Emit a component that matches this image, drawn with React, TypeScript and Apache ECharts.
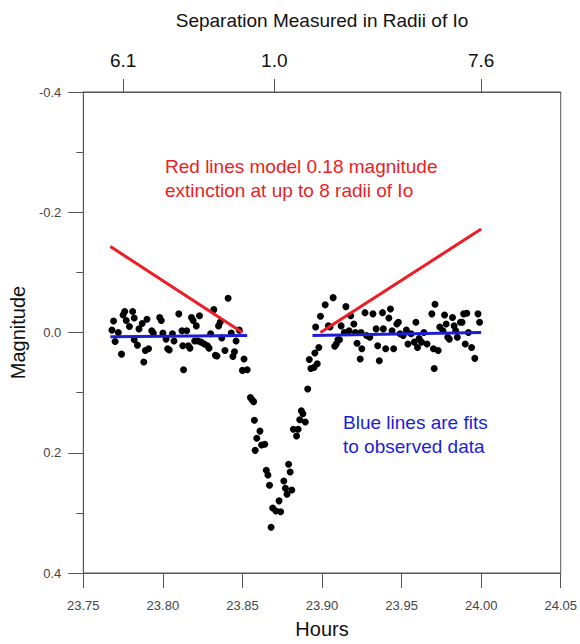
import React, { useEffect, useRef } from "react";
import * as echarts from "echarts";

// Observed data: [hours, magnitude]
const leftObs: number[][] = [
  [23.769, -0.019], [23.768, -0.004], [23.770, 0.015], [23.772, 0.000], [23.774, 0.036],
  [23.775, -0.029], [23.776, -0.035], [23.777, -0.020], [23.779, -0.010], [23.781, -0.035],
  [23.782, -0.024], [23.782, 0.012], [23.784, 0.021], [23.785, -0.006], [23.787, -0.015],
  [23.788, 0.049], [23.789, 0.030], [23.790, -0.022], [23.791, 0.027], [23.793, -0.003],
  [23.794, 0.001], [23.798, -0.025], [23.799, -0.020], [23.800, 0.001], [23.802, 0.011],
  [23.803, 0.027], [23.804, 0.029], [23.806, 0.002], [23.807, 0.014], [23.810, -0.031],
  [23.812, -0.003], [23.8125, 0.022], [23.813, 0.062], [23.815, -0.003], [23.816, 0.022],
  [23.817, 0.026], [23.818, -0.025], [23.819, -0.020], [23.820, 0.014], [23.821, -0.011],
  [23.822, 0.014], [23.823, -0.028], [23.824, 0.016], [23.826, 0.019], [23.828, 0.022],
  [23.829, 0.026], [23.830, 0.002], [23.832, -0.038], [23.833, 0.038], [23.834, 0.039],
  [23.835, -0.011], [23.836, -0.017], [23.837, 0.009], [23.839, 0.030], [23.841, -0.057],
  [23.843, 0.001], [23.844, 0.040], [23.845, 0.032], [23.846, 0.014], [23.848, -0.004],
  [23.851, 0.044], [23.850, 0.063], [23.853, 0.062], [23.855, 0.108],
];

const dipObs: number[][] = [
  [23.856, 0.112], [23.857, 0.115], [23.8575, 0.146], [23.861, 0.164], [23.859, 0.176],
  [23.862, 0.187], [23.864, 0.186], [23.858, 0.196], [23.865, 0.229], [23.866, 0.237],
  [23.867, 0.254], [23.873, 0.280], [23.869, 0.292], [23.871, 0.297], [23.874, 0.298],
  [23.868, 0.324], [23.876, 0.247], [23.877, 0.259], [23.878, 0.269], [23.881, 0.262],
  [23.879, 0.219], [23.880, 0.232], [23.882, 0.161], [23.884, 0.172], [23.885, 0.161],
  [23.886, 0.145], [23.887, 0.130], [23.888, 0.135], [23.8895, 0.149], [23.891, 0.094],
  [23.893, 0.060], [23.895, 0.058], [23.892, 0.045], [23.8955, 0.034], [23.897, 0.052],
  [23.898, 0.025],
];

const rightObs: number[][] = [
  [23.896, -0.009], [23.899, -0.027], [23.902, -0.046], [23.904, -0.011], [23.905, -0.009],
  [23.907, -0.058], [23.908, 0.023], [23.909, 0.019], [23.910, 0.012], [23.911, 0.012],
  [23.912, -0.011], [23.914, 0.000], [23.915, -0.043], [23.917, -0.003], [23.918, -0.028],
  [23.920, -0.014], [23.921, 0.000], [23.922, 0.018], [23.924, 0.044], [23.9245, 0.000],
  [23.925, 0.027], [23.927, -0.033], [23.928, 0.005], [23.930, 0.008], [23.932, -0.031],
  [23.934, -0.006], [23.935, 0.022], [23.936, 0.047], [23.938, -0.033], [23.9385, -0.006],
  [23.940, 0.027], [23.942, -0.024], [23.943, -0.039], [23.944, -0.003], [23.945, 0.027],
  [23.947, -0.014], [23.948, -0.017], [23.949, 0.002], [23.951, 0.005], [23.953, -0.004],
  [23.954, 0.019], [23.956, 0.002], [23.958, 0.016], [23.959, -0.017], [23.960, 0.025],
  [23.961, 0.010], [23.9625, 0.016], [23.964, 0.000], [23.966, 0.019], [23.969, -0.031],
  [23.970, 0.027], [23.9705, 0.060], [23.971, -0.047], [23.973, 0.030], [23.974, -0.009],
  [23.976, -0.003], [23.977, -0.029], [23.978, -0.014], [23.979, 0.008], [23.980, 0.011],
  [23.982, -0.025], [23.983, -0.011], [23.984, -0.003], [23.985, 0.008], [23.987, -0.017],
  [23.988, -0.017], [23.989, -0.031], [23.990, 0.019], [23.991, -0.032], [23.992, 0.000],
  [23.994, 0.025], [23.996, 0.043], [23.998, -0.031], [23.999, -0.017],
];

// Model (red) and fit (blue) lines
const redLeft: number[][] = [[23.767, -0.143], [23.85, 0.0]];
const redRight: number[][] = [[23.899, 0.0], [24.0, -0.172]];
const blueLeft: number[][] = [[23.767, 0.007], [23.853, 0.005]];
const blueRight: number[][] = [[23.894, 0.005], [24.0, 0.0]];

// Top axis: separation in radii of Io
const topTickHours: number[] = [23.775, 23.87, 24.0];
const topTickLabels: string[] = ["6.1", "1.0", "7.6"];

const FONT = "Liberation Sans, Arial, sans-serif";
const AXIS_COLOR = "#555";
const RED = "#ee1c24";
const BLUE = "#1d1dd6";

export default function App() {
  const ref = useRef<HTMLDivElement>(null);
  useEffect(() => {
    if (!ref.current) return;
    const chart = echarts.init(ref.current, undefined, { renderer: "svg" });
    const lineStyle = (c: string) => ({ color: c, width: 3 });
    const dot = { color: "#000", opacity: 1 };
    chart.setOption({
      animation: false,
      textStyle: { fontFamily: FONT },
      grid: {
        left: 79, right: 17, top: 92, bottom: 69,
        show: true, borderColor: AXIS_COLOR, borderWidth: 1, backgroundColor: "transparent",
      },
      xAxis: [
        {
          type: "value", position: "bottom", min: 23.75, max: 24.05, interval: 0.05,
          name: "Hours", nameLocation: "middle", nameGap: 46,
          nameTextStyle: { fontSize: 20, color: "#111", fontFamily: FONT },
          axisLine: { show: true, onZero: false, lineStyle: { color: AXIS_COLOR } },
          axisTick: { show: true, inside: false, length: 15, lineStyle: { color: AXIS_COLOR } },
          axisLabel: {
            margin: 26, fontSize: 13, color: "#444", fontFamily: FONT,
            formatter: (v: number) => v.toFixed(2),
          },
          splitLine: { show: false },
        },
        {
          type: "value", position: "top", min: 23.75, max: 24.05,
          name: "Separation Measured in Radii of Io", nameLocation: "middle", nameGap: 62,
          nameTextStyle: { fontSize: 19, color: "#111", fontFamily: FONT },
          axisLine: { show: true, onZero: false, lineStyle: { color: AXIS_COLOR } },
          axisTick: { show: true, length: 13, customValues: topTickHours, lineStyle: { color: AXIS_COLOR } },
          axisLabel: {
            margin: 22, fontSize: 19, color: "#111", fontFamily: FONT,
            customValues: topTickHours,
            formatter: (v: number) => {
              let best = 0;
              topTickHours.forEach((h, i) => {
                if (Math.abs(h - v) < Math.abs(topTickHours[best] - v)) best = i;
              });
              return topTickLabels[best];
            },
          },
          splitLine: { show: false },
        },
      ],
      yAxis: {
        type: "value", inverse: true, min: -0.4, max: 0.4, interval: 0.2,
        name: "Magnitude", nameLocation: "middle", nameGap: 50, nameRotate: 90,
        nameTextStyle: { fontSize: 20, color: "#111", fontFamily: FONT },
        axisLine: { show: true, onZero: false, lineStyle: { color: AXIS_COLOR } },
        axisTick: { show: true, length: 15, lineStyle: { color: AXIS_COLOR } },
        minorTick: { show: true, splitNumber: 2, length: 7, lineStyle: { color: AXIS_COLOR } },
        axisLabel: {
          margin: 22, fontSize: 13, color: "#444", fontFamily: FONT,
          formatter: (v: number) => (Math.abs(v) < 1e-9 ? "0.0" : v.toFixed(1)),
        },
        splitLine: { show: false },
      },
      series: [
        { type: "scatter", data: leftObs, symbolSize: 7, itemStyle: dot, z: 3 },
        { type: "scatter", data: dipObs, symbolSize: 7, itemStyle: dot, z: 3 },
        { type: "scatter", data: rightObs, symbolSize: 7, itemStyle: dot, z: 3 },
        { type: "line", data: redLeft, showSymbol: false, lineStyle: lineStyle(RED), z: 4 },
        { type: "line", data: redRight, showSymbol: false, lineStyle: lineStyle(RED), z: 4 },
        { type: "line", data: blueLeft, showSymbol: false, lineStyle: lineStyle(BLUE), z: 5 },
        { type: "line", data: blueRight, showSymbol: false, lineStyle: lineStyle(BLUE), z: 5 },
      ],
      graphic: [
        {
          type: "text", left: 165, top: 154,
          style: {
            text: "Red lines model 0.18 magnitude\nextinction at up to 8 radii of Io",
            fill: RED, fontSize: 19, lineHeight: 24, fontFamily: FONT,
          },
        },
        {
          type: "text", left: 343, top: 410,
          style: {
            text: "Blue lines are fits\nto observed data",
            fill: BLUE, fontSize: 19, lineHeight: 24, fontFamily: FONT,
          },
        },
      ],
    });
    return () => chart.dispose();
  }, []);
  return (
    <div
      ref={ref}
      style={{ position: "fixed", left: 0, top: 0, width: 580, height: 644, background: "#fff" }}
    />
  );
}
